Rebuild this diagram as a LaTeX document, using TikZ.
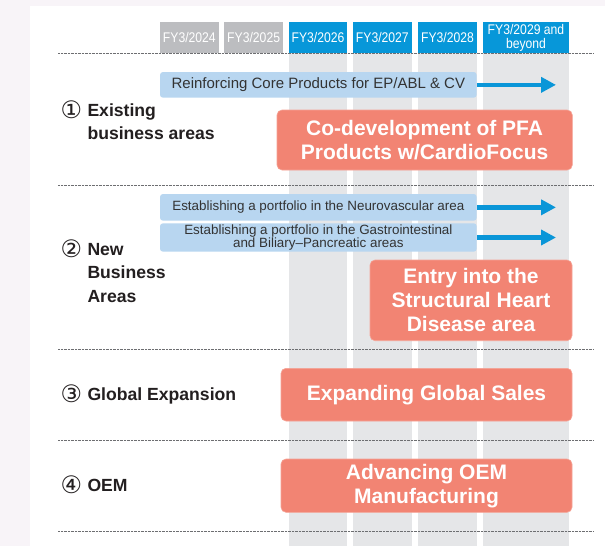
\documentclass[tikz,border=0pt]{standalone}
\usepackage{fontspec}
\setmainfont{Liberation Sans}
\newfontfamily\condsans[FakeStretch=0.87]{Liberation Sans}
\newfontfamily\symfont{DejaVu Sans}
\usetikzlibrary{arrows.meta}

\definecolor{pagetint}{HTML}{F8F4F8}
\definecolor{hdrgray}{HTML}{BCBDC0}
\definecolor{hdrblue}{HTML}{0797D9}
\definecolor{band}{HTML}{E5E6E8}
\definecolor{barblue}{HTML}{B8D6F0}
\definecolor{salmon}{HTML}{F28473}
\definecolor{arrowblue}{HTML}{0A96D8}
\definecolor{ink}{HTML}{231F20}
\definecolor{bartext}{HTML}{333333}
\definecolor{rulegray}{HTML}{6D6E71}

\tikzset{
  hdrcell/.style={inner sep=0pt, text=white, align=center,
    minimum height=31.3pt, font=\condsans\fontsize{14}{13.5}\selectfont},
  pastyear/.style={hdrcell, fill=hdrgray},
  planyear/.style={hdrcell, fill=hdrblue},
  colband/.style={fill=band},
  sepline/.style={draw=rulegray, line width=0.7pt, dash pattern=on 0.7pt off 0.7pt},
  themebar/.style={fill=barblue, rounded corners=3pt, inner sep=0pt, align=center,
    text=bartext, minimum width=316.7pt},
  flowarrow/.style={draw=arrowblue, line width=4.7pt,
    -{Triangle[length=15pt,width=15pt]}},
  goalbox/.style={fill=salmon, draw=salmon!75!white, line width=0.6pt,
    rounded corners=5pt, inner sep=0pt, align=center, text=white,
    font=\bfseries\fontsize{21}{24}\selectfont},
  rowlabel/.style={anchor=base west, inner sep=0pt, text=ink,
    font=\bfseries\fontsize{17.6}{23.5}\selectfont},
  rownum/.style={anchor=center, inner sep=0pt, text=ink,
    font=\symfont\fontsize{24}{26}\selectfont}
}

\begin{document}
\begin{tikzpicture}[x=1pt, y=-1pt]
  \useasboundingbox (0,0) rectangle (605,546);

  % page tint and white panel
  \fill[pagetint] (0,0) rectangle (605,546);
  \fill[white] (30,6) rectangle (605,546);

  % shaded columns below the plan years
  \fill[colband] (288.7,53.3) rectangle (347.3,546);
  \fill[colband] (352.7,53.3) rectangle (412,546);
  \fill[colband] (417.7,53.3) rectangle (477.3,546);
  \fill[colband] (482.7,53.3) rectangle (569.3,546);

  % fiscal-year header
  \node[pastyear, minimum width=58.7pt] (y24) at (189.35,37.65) {FY3/2024};
  \node[pastyear, minimum width=58.7pt] (y25) at (253.65,37.65) {FY3/2025};
  \node[planyear, minimum width=58.6pt] (y26) at (318,37.65) {FY3/2026};
  \node[planyear, minimum width=59.3pt] (y27) at (382.35,37.65) {FY3/2027};
  \node[planyear, minimum width=59.6pt] (y28) at (447.5,37.65) {FY3/2028};
  \node[planyear, minimum width=86.6pt] (y29) at (526,37.65) {FY3/2029 and\\beyond};

  % row separators
  \foreach \yy in {53.3,185,349,440,531}
    \draw[sepline] (58,\yy) -- (593,\yy);

  % row 1: existing business areas
  \node[rownum] (n1) at (71.5,109.7) {①};
  \node[rowlabel] (r1a) at (87.3,116) {Existing};
  \node[rowlabel] (r1b) at (87.3,139.3) {business areas};
  \node[themebar, minimum height=25.7pt, font=\fontsize{15}{17}\selectfont]
    (core) at (318.35,84.85) {Reinforcing Core Products for EP/ABL \& CV};
  \coordinate (coretip) at (556,84.85);
  \draw[flowarrow] (core.east) -- (coretip);
  \node[goalbox, minimum width=295.3pt, minimum height=60pt]
    (pfa) at (424.65,140) {Co-development of PFA\\Products w/CardioFocus};

  % row 2: new business areas
  \node[rownum] (n2) at (71.5,248.7) {②};
  \node[rowlabel] (r2a) at (87.3,255) {New};
  \node[rowlabel] (r2b) at (87.3,278.5) {Business};
  \node[rowlabel] (r2c) at (87.3,302) {Areas};
  \node[themebar, minimum height=26.7pt, font=\fontsize{13.4}{15}\selectfont]
    (neuro) at (318.35,207.35) {Establishing a portfolio in the Neurovascular area};
  \coordinate (neurotip) at (556,207.35);
  \draw[flowarrow] (neuro.east) -- (neurotip);
  \node[themebar, minimum height=28.4pt, font=\fontsize{13.4}{12}\selectfont]
    (gi) at (318.35,237.5) {Establishing a portfolio in the Gastrointestinal\\and Biliary\textendash Pancreatic areas};
  \coordinate (gitip) at (556,237.5);
  \draw[flowarrow] (gi.east) -- (gitip);
  \node[goalbox, minimum width=202pt, minimum height=80.7pt]
    (shd) at (471,300.35) {Entry into the\\Structural Heart\\Disease area};

  % row 3: global expansion
  \node[rownum] (n3) at (71.5,393.7) {③};
  \node[rowlabel] (r3) at (87.3,400) {Global Expansion};
  \node[goalbox, minimum width=291pt, minimum height=52.7pt]
    (sales) at (426.5,394.65) {Expanding Global Sales};

  % row 4: OEM
  \node[rownum] (n4) at (71.5,484.7) {④};
  \node[rowlabel] (r4) at (87.3,491) {OEM};
  \node[goalbox, minimum width=291pt, minimum height=53.3pt]
    (oem) at (426.5,485.65) {Advancing OEM\\Manufacturing};
\end{tikzpicture}
\end{document}
